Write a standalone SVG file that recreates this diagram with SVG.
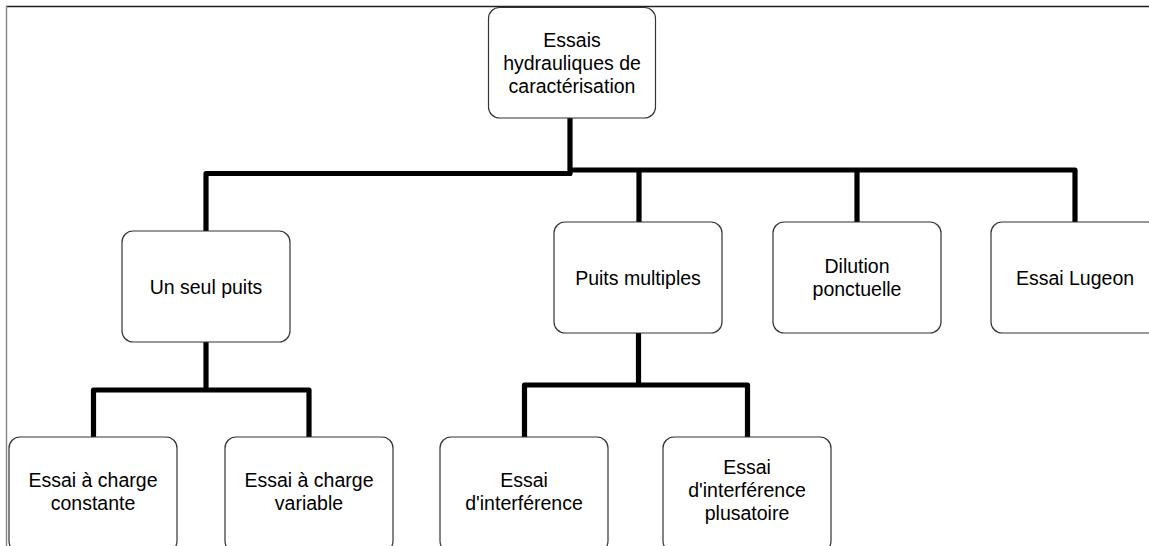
<svg xmlns="http://www.w3.org/2000/svg" width="1149" height="546" viewBox="0 0 1149 546">
<style>
.box{fill:#fff;stroke:#333;stroke-width:1.2}
.lbl{font-family:"Liberation Sans",Arial,sans-serif;font-size:19.5px;fill:#000;text-anchor:middle}
.con{fill:none;stroke:#000;stroke-width:5.2;stroke-linejoin:round}
</style>
<rect width="1149" height="546" fill="#fff"/>
<line x1="6" y1="6.5" x2="1149" y2="6.5" stroke="#222" stroke-width="1.5"/>
<line x1="6.5" y1="6" x2="6.5" y2="546" stroke="#8a8a8a" stroke-width="1.5"/>
<g id="connectors" class="con">
<path d="M570,118 V173.5 H206 V231"/>
<path d="M570,170 H1075 V222"/>
<path d="M639,170 V222"/>
<path d="M857,170 V222"/>
<path d="M206,342 V390"/>
<path d="M93.5,437 V390 H309 V437"/>
<path d="M638.5,333 V385"/>
<path d="M524.5,437 V385 H747.5 V437"/>
</g>
<g id="root">
<rect class="box" x="488.5" y="7.5" width="167" height="110.5" rx="11"/>
<text class="lbl" x="572" y="46.5">Essais</text>
<text class="lbl" x="572" y="69.5">hydrauliques de</text>
<text class="lbl" x="572" y="92.5">caractérisation</text>
</g>
<g id="un-seul-puits">
<rect class="box" x="122" y="231" width="168" height="111" rx="11"/>
<text class="lbl" x="206" y="293.5">Un seul puits</text>
</g>
<g id="puits-multiples">
<rect class="box" x="554" y="222" width="168" height="111" rx="11"/>
<text class="lbl" x="638" y="284.5">Puits multiples</text>
</g>
<g id="dilution">
<rect class="box" x="773" y="222" width="168" height="111" rx="11"/>
<text class="lbl" x="857" y="273">Dilution</text>
<text class="lbl" x="857" y="295.5">ponctuelle</text>
</g>
<g id="lugeon">
<rect class="box" x="991" y="222" width="168" height="111" rx="11"/>
<text class="lbl" x="1075" y="284.5">Essai Lugeon</text>
</g>
<g id="charge-constante">
<rect class="box" x="9" y="437" width="168" height="115" rx="11"/>
<text class="lbl" x="93" y="487">Essai à charge</text>
<text class="lbl" x="93" y="510">constante</text>
</g>
<g id="charge-variable">
<rect class="box" x="225" y="437" width="168" height="115" rx="11"/>
<text class="lbl" x="309" y="487">Essai à charge</text>
<text class="lbl" x="309" y="510">variable</text>
</g>
<g id="interference">
<rect class="box" x="440" y="437" width="168" height="115" rx="11"/>
<text class="lbl" x="524" y="487">Essai</text>
<text class="lbl" x="524" y="510">d'interférence</text>
</g>
<g id="interference-plusatoire">
<rect class="box" x="663" y="437" width="168" height="115" rx="11"/>
<text class="lbl" x="747" y="474">Essai</text>
<text class="lbl" x="747" y="497">d'interférence</text>
<text class="lbl" x="747" y="520">plusatoire</text>
</g>
</svg>
